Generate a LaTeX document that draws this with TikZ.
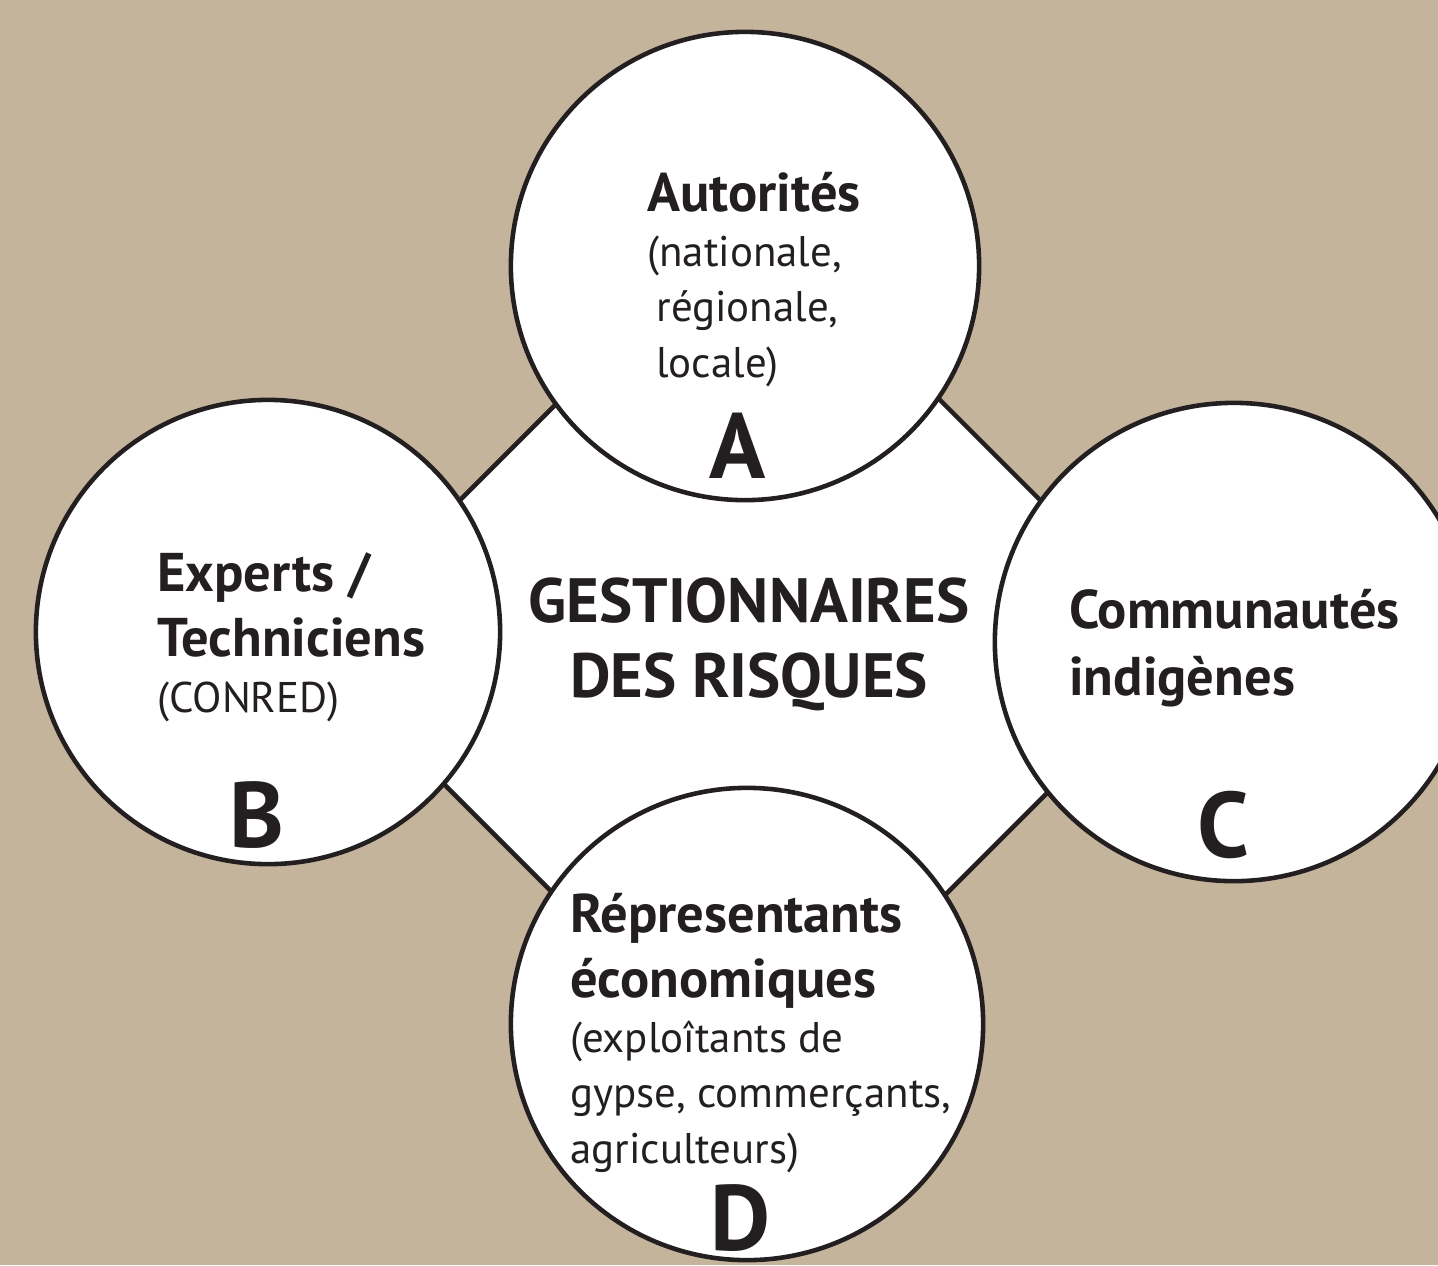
\documentclass[tikz,border=0pt]{standalone}
\usepackage{fontspec}
\setmainfont{PT Sans}
\usepackage{tikz}
\definecolor{sand}{RGB}{196,180,156}
\definecolor{ink}{RGB}{35,31,32}
\newcommand\bigtitle{\bfseries\fontsize{15.5}{15.65}\selectfont}
\newcommand\smalltext{\lineskiplimit=-20pt\relax\fontsize{12.2}{15.65}\selectfont}

\begin{document}
\begin{tikzpicture}[x=0.01cm,y=-0.01cm,line width=1.3pt,
    every node/.style={inner sep=0pt,text=ink},
    ring/.style={circle,draw=ink,fill=white,minimum size=#1},
    textblock/.style={anchor=base west,align=left,font=\smalltext},
    letter/.style={anchor=base,font=\bfseries\fontsize{26.4}{30}\selectfont}]
  \fill[sand] (0,0) rectangle (1438,1265);
  \useasboundingbox (0,0) rectangle (1438,1265);
  \clip (0,0) rectangle (1438,1265);
  \coordinate (N) at (750,210);
  \coordinate (E) at (1190,650);
  \coordinate (S) at (750,1090);
  \coordinate (W) at (310,650);
  \draw[draw=ink,fill=white] (N) -- (E) -- (S) -- (W) -- cycle;
  \node[ring=4.68cm] (A) at (745,266) {};
  \node[ring=4.64cm] (B) at (268,632) {};
  \node[ring=4.78cm] (C) at (1234,642) {};
  \node[ring=4.72cm] (D) at (747,1024) {};
  \node[anchor=base,align=center,font=\bfseries\fontsize{17.8}{21.3}\selectfont]
    (G) at (749,697) {GESTIONNAIRES\\DES RISQUES};
  \node[textblock] (At) at (645,377)
    {{\bigtitle Autorités}\\(nationale,\\\hspace*{2.6pt}régionale,\\\hspace*{2.6pt}locale)};
  \node[textblock] (Bt) at (155,712)
    {{\bigtitle Experts /}\\[2.85pt]{\bigtitle Techniciens}\\(CONRED)};
  \node[textblock] (Ct) at (1067,695)
    {{\bigtitle Communautés}\\[3.4pt]{\bigtitle indigènes}};
  \node[textblock] (Dt) at (568,1163)
    {{\bigtitle Répresentants}\\[2.85pt]{\bigtitle économiques}\\(exploîtants de\\gypse, commerçants,\\agriculteurs)};
  \node[letter] (LA) at (738,478) {A};
  \node[letter] (LB) at (257,847) {B};
  \node[letter] (LC) at (1223,857) {C};
  \node[letter] (LD) at (741,1250) {D};
\end{tikzpicture}
\end{document}
